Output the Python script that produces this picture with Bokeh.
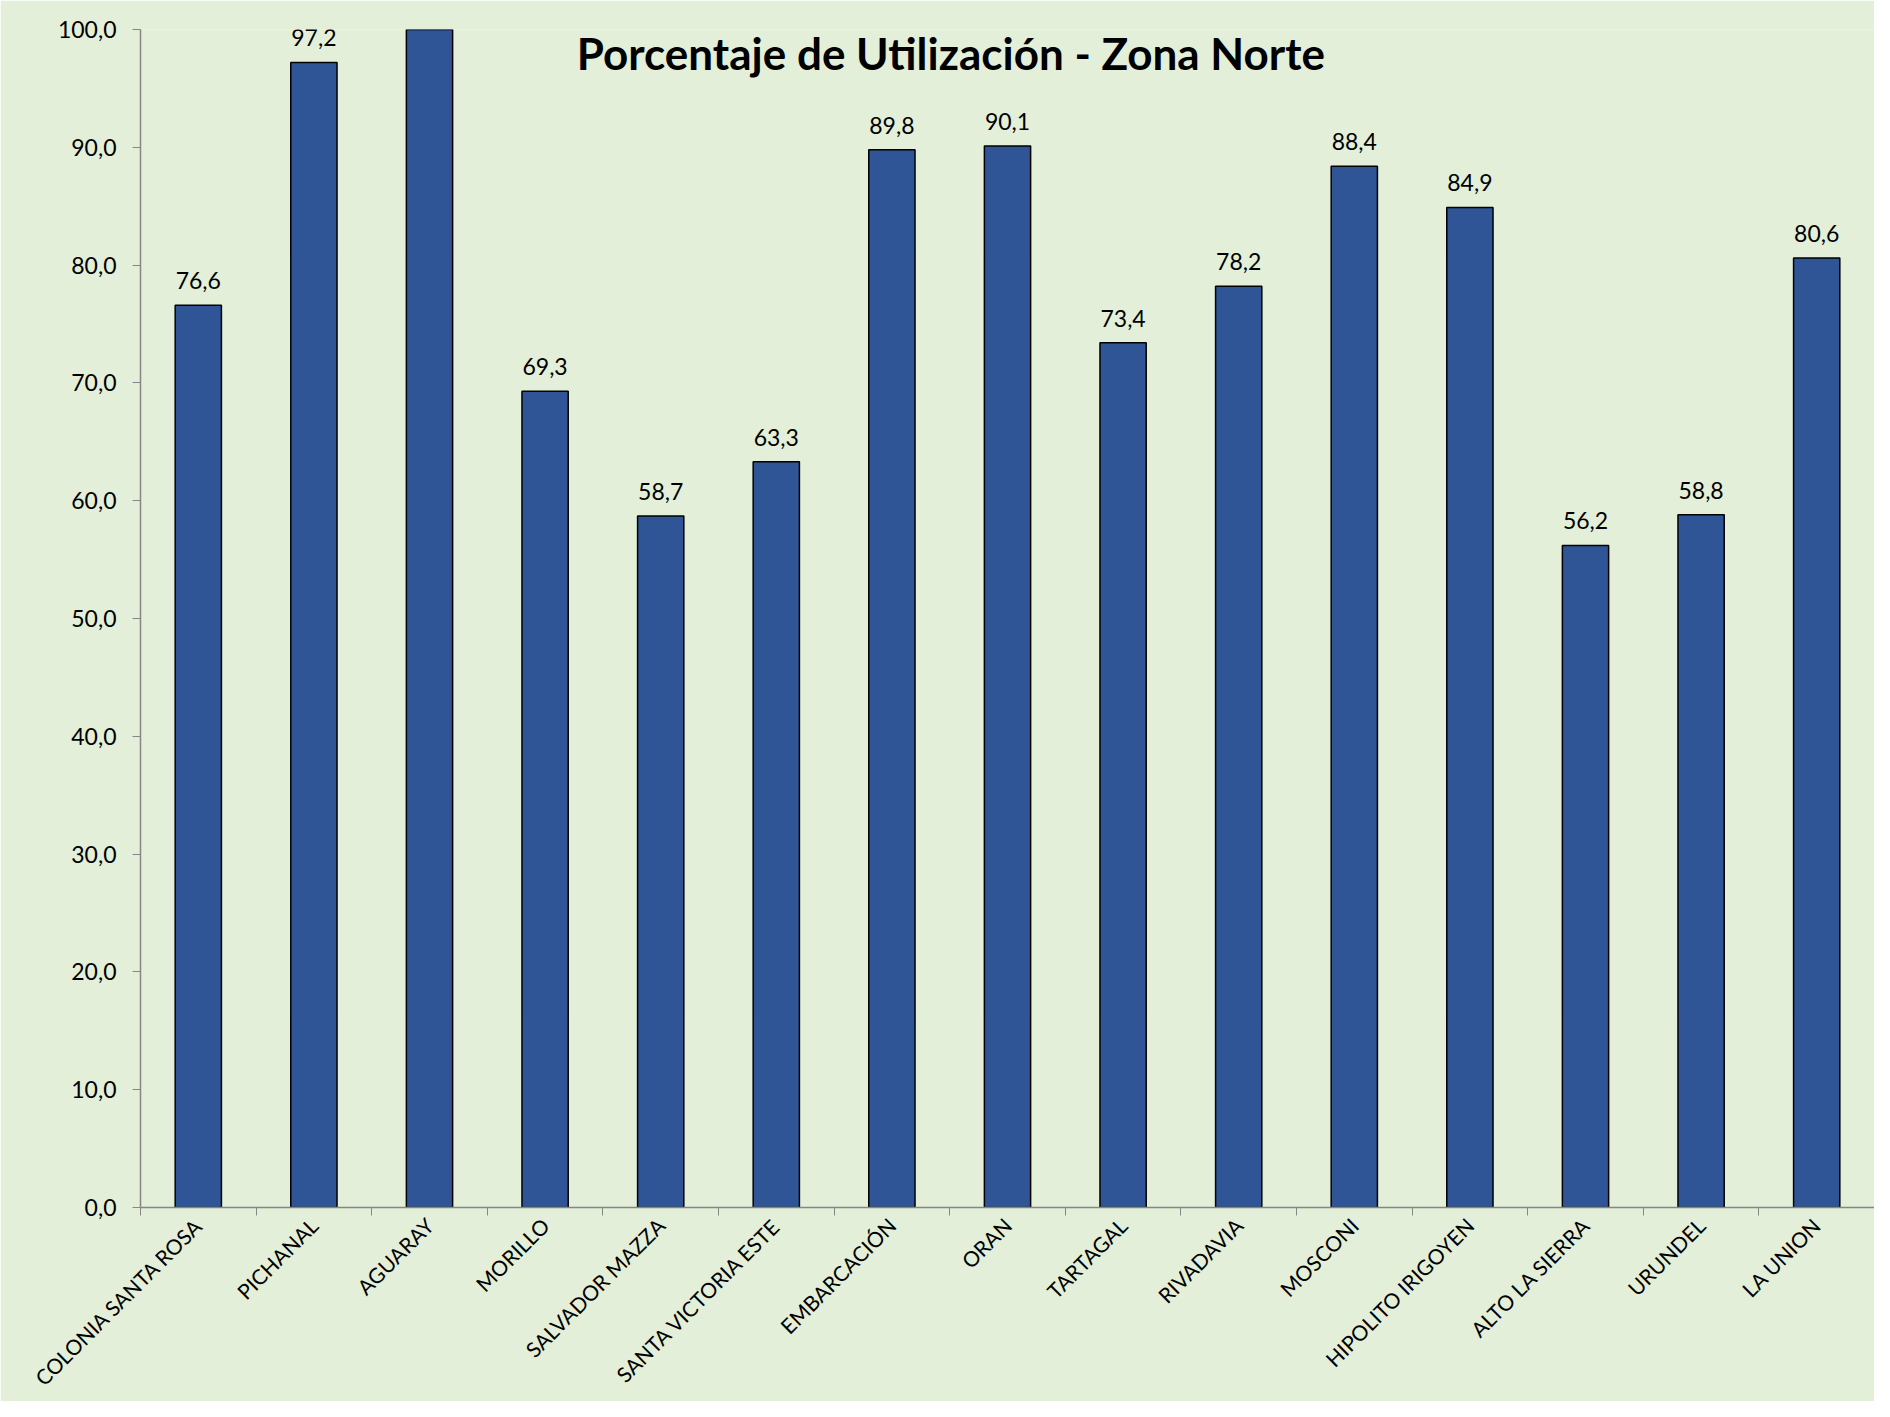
import numpy as np
from bokeh.plotting import figure
from bokeh.models import ColumnDataSource, FixedTicker, LabelSet, Label, Range1d
from bokeh.core.properties import value
from bokeh.embed import file_html
from bokeh.resources import INLINE

categories = ["COLONIA SANTA ROSA", "PICHANAL", "AGUARAY", "MORILLO", "SALVADOR MAZZA",
              "SANTA VICTORIA ESTE", "EMBARCACIÓN", "ORAN", "TARTAGAL", "RIVADAVIA",
              "MOSCONI", "HIPOLITO IRIGOYEN", "ALTO LA SIERRA", "URUNDEL", "LA UNION"]
values = [76.6, 97.2, 101.5, 69.3, 58.7, 63.3, 89.8, 90.1, 73.4, 78.2, 88.4, 84.9, 56.2, 58.8, 80.6]
y_ticks = [0, 10, 20, 30, 40, 50, 60, 70, 80, 90, 100]

Y_MAX = 100
FONT = "Lato"
BG = "#E3EFD9"

xs = np.arange(len(categories)) + 0.5
labels = [f"{v:.1f}".replace(".", ",") if v <= Y_MAX else "" for v in values]
src = ColumnDataSource(dict(x=xs, top=values, label=labels))

p = figure(width=1874, height=1401, output_backend="svg", toolbar_location=None,
           x_range=Range1d(0, len(categories)), y_range=Range1d(0, Y_MAX),
           min_border_left=140, min_border_right=0, min_border_top=29, min_border_bottom=192)
p.title = None
p.background_fill_color = BG
p.border_fill_color = BG
p.outline_line_color = None
p.grid.visible = False

p.vbar(x="x", top="top", width=0.4, bottom=0, source=src,
       fill_color="#2F5597", line_color="#000000", line_width=1.5)

lbl = LabelSet(x="x", y="top", text="label", source=src, text_align="center",
               text_baseline="bottom", y_offset=16, text_font=value(FONT),
               text_font_size=value("23px"), text_color="#000000")
p.add_layout(lbl)

title = Label(x=7.01, y=98.0, text="Porcentaje de Utilización - Zona Norte",
              text_align="center", text_baseline="middle", text_font=FONT,
              text_font_style="bold", text_font_size="44px", text_color="#000000")
p.add_layout(title)

# y axis
ya = p.yaxis[0]
ya.ticker = FixedTicker(ticks=y_ticks)
ya.major_label_overrides = {t: f"{t:.1f}".replace(".", ",") for t in y_ticks}
ya.axis_line_color = "#868686"
ya.axis_line_width = 1.5
ya.major_tick_line_color = "#868686"
ya.major_tick_in = 0
ya.major_tick_out = 8
ya.minor_tick_line_color = None
ya.major_label_text_font = FONT
ya.major_label_text_font_size = "23px"
ya.major_label_text_color = "#000000"
ya.major_label_standoff = 16

# x axis
xa = p.xaxis[0]
xa.ticker = FixedTicker(ticks=list(xs), minor_ticks=list(range(len(categories) + 1)))
xa.major_label_overrides = {float(x): c for x, c in zip(xs, categories)}
xa.major_label_orientation = np.pi / 4
xa.axis_line_color = "#868686"
xa.axis_line_width = 1.5
xa.major_tick_line_color = None
xa.minor_tick_line_color = "#868686"
xa.minor_tick_in = 0
xa.minor_tick_out = 8
xa.major_label_text_font = FONT
xa.major_label_text_font_size = "21px"
xa.major_label_text_color = "#000000"
xa.major_label_standoff = 6

open("out.html", "w").write(file_html(p, INLINE))
